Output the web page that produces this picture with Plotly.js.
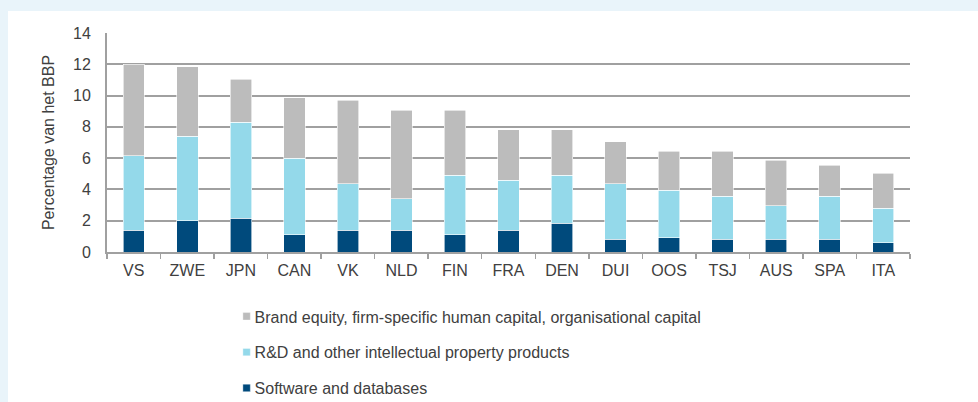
<!DOCTYPE html>
<html>
<head>
<meta charset="utf-8">
<script src="https://cdn.plot.ly/plotly-3.0.1.min.js"></script>
<style>
  html, body { margin: 0; padding: 0; width: 978px; height: 402px; overflow: hidden; background: #e9f4fa; }
  #chart { position: absolute; left: 8px; top: 11px; width: 970px; height: 420px; background: #ffffff; }
  .legend .legendpoints path { transform: translate(32px, 0px) scale(0.62); }
</style>
</head>
<body>
<div id="chart"></div>
<script>
const categories = ["VS","ZWE","JPN","CAN","VK","NLD","FIN","FRA","DEN","DUI","OOS","TSJ","AUS","SPA","ITA"];
const software = [1.4, 2.0, 2.15, 1.1, 1.4, 1.4, 1.1, 1.4, 1.85, 0.8, 0.9, 0.8, 0.8, 0.8, 0.6];
const rnd      = [4.75, 5.4, 6.15, 4.9, 2.95, 2.0, 3.8, 3.2, 3.05, 3.55, 3.05, 2.75, 2.15, 2.75, 2.2];
const brand    = [5.85, 4.45, 2.75, 3.85, 5.35, 5.65, 4.15, 3.2, 2.9, 2.7, 2.5, 2.9, 2.9, 2.0, 2.25];
const seriesNames = [
  "Software and databases",
  "R&D and other intellectual property products",
  "Brand equity, firm-specific human capital, organisational capital"
];
const yTicks = [0, 2, 4, 6, 8, 10, 12, 14];

const colors = ["#004a7c", "#94d9ea", "#bcbcbc"];
const ranks = [3, 2, 1];
const series = [software, rnd, brand];

const traces = series.map((vals, i) => ({
  type: "bar",
  x: categories,
  y: vals,
  name: seriesNames[i],
  legendgroup: "g" + i,
  legendrank: ranks[i],
  marker: { color: colors[i], line: { color: "#ffffff", width: 0.6 } },
  hoverinfo: "x+y+name"
}));

const layout = {
  width: 970,
  height: 420,
  barmode: "stack",
  bargap: 0.6,
  paper_bgcolor: "#ffffff",
  plot_bgcolor: "#ffffff",
  margin: { l: 99, r: 68, t: 22, b: 179 },
  font: { family: "Liberation Sans, Arial, sans-serif", size: 16, color: "#404040" },
  xaxis: {
    type: "category",
    showline: true,
    linecolor: "#a0a0a0",
    linewidth: 2,
    ticks: "outside",
    tickson: "boundaries",
    ticklen: 5,
    tickwidth: 1.5,
    tickcolor: "#a0a0a0",
    ticklabelstandoff: 3,
    tickfont: { size: 16, color: "#404040" },
    showgrid: false
  },
  yaxis: {
    range: [0, 14],
    tickvals: yTicks,
    ticktext: yTicks.map(String),
    showgrid: true,
    gridcolor: "#a0a0a0",
    gridwidth: 2,
    showline: true,
    linecolor: "#a0a0a0",
    linewidth: 2,
    zeroline: false,
    ticks: "",
    ticklabelstandoff: 11,
    tickfont: { size: 16, color: "#404040" },
    title: { text: "Percentage van het BBP", font: { size: 16, color: "#404040" }, standoff: 14 }
  },
  showlegend: true,
  legend: {
    orientation: "v",
    x: 0.134,
    xanchor: "left",
    y: -0.2165,
    yanchor: "top",
    traceorder: "grouped",
    tracegroupgap: 12,
    font: { size: 16, color: "#404040" },
    bgcolor: "rgba(0,0,0,0)"
  }
};

Plotly.newPlot("chart", traces, layout, { displayModeBar: false, staticPlot: true });
</script>
</body>
</html>
